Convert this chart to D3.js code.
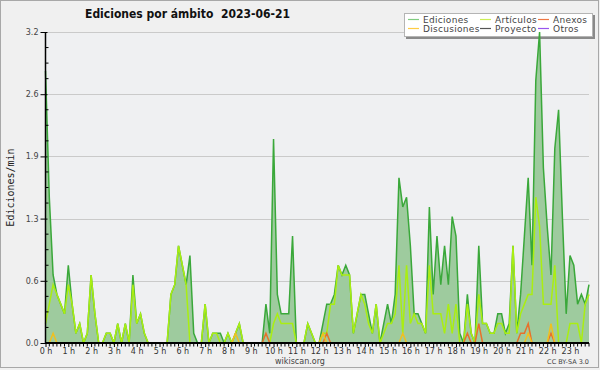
<!DOCTYPE html>
<html>
<head>
<meta charset="utf-8">
<script src="https://cdnjs.cloudflare.com/ajax/libs/d3/7.8.5/d3.min.js"></script>
<style>
  body { margin: 0; background: #f0f0f0; }
  svg { display: block; font-family: "DejaVu Sans", sans-serif; }
</style>
</head>
<body>
<svg id="chart" width="600" height="370"></svg>
<script>
// edits per minute, one value per 10 minute slot (00:00 ... 23:50)
const ediciones = [
  2.8, 1.5, 0.7, 0.5, 0.4, 0.3, 0.8, 0.4, 0.1, 0.2, 0, 0.1,
  0.7, 0.3, 0, 0, 0.1, 0.1, 0, 0.2, 0, 0.2, 0, 0.7,
  0.2, 0.3, 0.1, 0, 0, 0, 0, 0, 0, 0.5, 0.6, 1.0,
  0.8, 0.6, 0.9, 0.1, 0, 0, 0.4, 0, 0.1, 0.1, 0.1, 0,
  0.1, 0, 0.1, 0.2, 0, 0, 0, 0, 0, 0, 0.4, 0.1,
  2.1, 0.5, 0.3, 0.3, 0.3, 1.1, 0, 0, 0, 0.2, 0.1, 0,
  0, 0.2, 0.4, 0.4, 0.5, 0.8, 0.7, 0.8, 0.7, 0.1, 0.3, 0.5,
  0.5, 0.3, 0.1, 0.4, 0, 0.2, 0.4, 0.2, 0.5, 1.7, 1.4, 1.5,
  1.0, 0.3, 0.3, 0.2, 0.1, 1.4, 0.5, 1.1, 0.6, 1.0, 0.6, 1.3,
  1.1, 0.1, 0, 0.5, 0.1, 0, 1.0, 0.2, 0.2, 0.1, 0.1, 0.3,
  0.3, 0.1, 0.2, 1.0, 0.1, 0.5, 1.1, 1.7, 0.8, 2.7, 3.2, 1.8,
  1.2, 0.7, 2.0, 2.4, 1.3, 0.3, 0.9, 0.8, 0.4, 0.5, 0.4, 0.6
];
const articulos = [
  0.2, 0.4, 0.6, 0.5, 0.4, 0.3, 0.6, 0.4, 0.1, 0.2, 0, 0.1,
  0.7, 0.3, 0, 0, 0.1, 0.1, 0, 0.2, 0, 0.2, 0, 0.6,
  0.2, 0.3, 0.1, 0, 0, 0, 0, 0, 0, 0.5, 0.6, 1.0,
  0.8, 0.6, 0, 0, 0, 0, 0.4, 0, 0.1, 0.1, 0, 0,
  0.1, 0, 0.1, 0.2, 0, 0, 0, 0, 0, 0, 0, 0,
  0.2, 0.3, 0.2, 0.2, 0.2, 0.2, 0, 0, 0, 0.2, 0.1, 0,
  0, 0.1, 0.1, 0.4, 0.4, 0.8, 0.7, 0.7, 0.7, 0.1, 0.3, 0.5,
  0.4, 0.2, 0.1, 0.4, 0, 0.1, 0.2, 0.2, 0.3, 0.8, 0.1, 0.8,
  0.2, 0.3, 0.2, 0.2, 0.1, 0.8, 0.3, 0.3, 0.3, 0.1, 0.4, 0.1,
  0.4, 0, 0, 0.4, 0.1, 0, 0.5, 0.2, 0.2, 0.1, 0.1, 0.2,
  0.2, 0.1, 0.1, 1.0, 0.1, 0.3, 0.4, 0.5, 0.5, 1.5, 1.2, 0.4,
  0.4, 0.4, 0.8, 0, 0, 0, 0.2, 0.2, 0.2, 0, 0.4, 0.5
];
const anexos = [
  0, 0, 0, 0, 0, 0, 0, 0, 0, 0, 0, 0,
  0, 0, 0, 0, 0, 0, 0, 0, 0, 0, 0, 0,
  0, 0, 0, 0, 0, 0, 0, 0, 0, 0, 0, 0,
  0, 0, 0, 0, 0, 0, 0, 0, 0, 0, 0, 0,
  0, 0, 0, 0, 0, 0, 0, 0, 0, 0, 0.1, 0,
  0, 0, 0, 0, 0, 0, 0, 0, 0, 0, 0, 0,
  0, 0, 0.1, 0, 0, 0, 0, 0, 0, 0, 0, 0,
  0, 0, 0, 0, 0, 0, 0, 0, 0, 0, 0, 0,
  0, 0, 0, 0, 0, 0, 0, 0, 0, 0, 0, 0,
  0, 0, 0, 0.1, 0, 0, 0.2, 0, 0, 0, 0, 0,
  0, 0, 0, 0, 0, 0.1, 0.1, 0.2, 0, 0, 0, 0,
  0, 0.1, 0, 0, 0, 0, 0, 0, 0, 0, 0, 0
];
const discusiones = [
  0, 0, 0.1, 0, 0, 0, 0, 0, 0, 0, 0, 0,
  0, 0, 0, 0, 0, 0, 0, 0, 0, 0, 0, 0,
  0, 0, 0, 0, 0, 0, 0, 0, 0, 0, 0, 0,
  0, 0, 0, 0, 0, 0, 0, 0, 0, 0, 0, 0,
  0, 0, 0.1, 0, 0, 0, 0, 0, 0, 0, 0, 0,
  0, 0, 0, 0, 0, 0, 0, 0, 0, 0, 0, 0,
  0, 0.1, 0, 0, 0, 0, 0, 0, 0, 0, 0, 0,
  0, 0, 0, 0, 0, 0, 0, 0, 0, 0, 0.1, 0,
  0, 0, 0, 0, 0, 0, 0, 0, 0, 0, 0, 0,
  0, 0, 0, 0, 0, 0, 0, 0, 0, 0, 0, 0,
  0, 0, 0, 0, 0, 0, 0, 0.1, 0, 0, 0, 0,
  0, 0.2, 0, 0, 0, 0, 0, 0, 0, 0, 0, 0
];
const proyecto = [
  0, 0, 0, 0, 0, 0, 0, 0, 0, 0, 0, 0,
  0, 0, 0, 0, 0, 0, 0, 0, 0, 0, 0, 0,
  0, 0, 0, 0, 0, 0, 0, 0, 0, 0, 0, 0,
  0, 0, 0, 0, 0, 0, 0, 0, 0, 0, 0, 0,
  0, 0, 0, 0, 0, 0, 0, 0, 0, 0, 0, 0,
  0, 0, 0, 0, 0, 0, 0, 0, 0, 0, 0, 0,
  0, 0, 0, 0, 0, 0, 0, 0, 0, 0, 0, 0,
  0, 0, 0, 0, 0, 0, 0, 0, 0, 0, 0, 0,
  0, 0, 0, 0, 0, 0, 0, 0, 0, 0, 0, 0,
  0, 0, 0, 0, 0, 0, 0, 0, 0, 0, 0, 0,
  0, 0, 0, 0, 0, 0, 0, 0, 0, 0, 0, 0,
  0, 0, 0, 0, 0, 0, 0, 0, 0, 0, 0, 0
];
const otros = [
  0, 0, 0, 0, 0, 0, 0, 0, 0, 0, 0, 0,
  0, 0, 0, 0, 0, 0, 0, 0, 0, 0, 0, 0,
  0, 0, 0, 0, 0, 0, 0, 0, 0, 0, 0, 0,
  0, 0, 0, 0, 0, 0, 0, 0, 0, 0, 0, 0,
  0, 0, 0, 0, 0, 0, 0, 0, 0, 0, 0, 0,
  0, 0, 0, 0, 0, 0, 0, 0, 0, 0, 0, 0,
  0, 0, 0, 0, 0, 0, 0, 0, 0, 0, 0, 0,
  0, 0, 0, 0, 0, 0, 0, 0, 0, 0, 0, 0,
  0, 0, 0, 0, 0, 0, 0, 0, 0, 0, 0, 0,
  0, 0, 0, 0, 0, 0, 0, 0, 0, 0, 0, 0,
  0, 0, 0, 0, 0, 0, 0, 0, 0, 0, 0, 0,
  0, 0, 0, 0, 0, 0, 0, 0, 0, 0, 0, 0
];

const seriesNames = ["Ediciones", "Artículos", "Anexos", "Discusiones", "Proyecto", "Otros"];
const hourLabels = ["0 h", "1 h", "2 h", "3 h", "4 h", "5 h", "6 h", "7 h", "8 h", "9 h", "10 h", "11 h",
  "12 h", "13 h", "14 h", "15 h", "16 h", "17 h", "18 h", "19 h", "20 h", "21 h", "22 h", "23 h"];
const yTicks = [0, 0.64, 1.28, 1.92, 2.56, 3.2];

const lineColor = {
  "Ediciones": "#3aa83a", "Artículos": "#aaee11", "Anexos": "#e8702a",
  "Discusiones": "#f0c020", "Proyecto": "#555555", "Otros": "#9944ee"
};
const legendColor = {
  "Ediciones": "#80cc80", "Artículos": "#ccee55", "Anexos": "#ee7744",
  "Discusiones": "#ffcc44", "Proyecto": "#555555", "Otros": "#9955ee"
};
const values = {
  "Ediciones": ediciones, "Artículos": articulos, "Anexos": anexos,
  "Discusiones": discusiones, "Proyecto": proyecto, "Otros": otros
};

var svg = d3.select("#chart"),
    plotL = 45.5, plotR = 589, plotT = 32, plotB = 343;

var x = d3.scaleLinear().domain([0, ediciones.length - 1]).range([plotL, plotR]);
var y = d3.scaleLinear().domain([0, 3.2]).range([plotB, plotT]);

// frame
svg.append("rect")
    .attr("x", 0.5).attr("y", 0.5).attr("width", 598).attr("height", 367)
    .attr("fill", "#f0f0f0").attr("stroke", "#a8a8a8");

svg.append("rect")
    .attr("x", plotL).attr("y", plotT).attr("width", plotR - plotL).attr("height", plotB - plotT)
    .attr("fill", "#eff0f2");

// grid
svg.append("g")
  .selectAll("line")
  .data(yTicks.slice(1))
  .enter().append("line")
    .attr("x1", plotL).attr("x2", plotR)
    .attr("y1", d => Math.round(y(d)) + 0.5).attr("y2", d => Math.round(y(d)) + 0.5)
    .attr("stroke", "#cacaca");

// title
svg.append("text")
    .attr("x", 85).attr("y", 18)
    .attr("font-size", 12.5).attr("font-weight", "bold").attr("fill", "#111")
    .attr("textLength", 205).attr("lengthAdjust", "spacingAndGlyphs")
    .style("white-space", "pre")
    .text("Ediciones por ámbito  2023-06-21");

// legend (lines are drawn over it)
var lg = svg.append("g");
lg.append("rect").attr("x", 406).attr("y", 15).attr("width", 189).attr("height", 24).attr("fill", "#8a8a8a");
lg.append("rect").attr("x", 404.5).attr("y", 13.5).attr("width", 188).attr("height", 23)
    .attr("fill", "#ffffff").attr("stroke", "#b4b4b4");
var colX = [408, 480, 538], rowY = [23, 32];
seriesNames.forEach(function(name, i) {
  var cx = colX[i % 3], cy = rowY[Math.floor(i / 3)];
  lg.append("line")
      .attr("x1", cx).attr("x2", cx + 11)
      .attr("y1", cy - 3.5).attr("y2", cy - 3.5)
      .attr("stroke", legendColor[name]).attr("stroke-width", 1.2);
  lg.append("text")
      .attr("x", cx + 15).attr("y", cy)
      .attr("font-size", 9).attr("fill", "#444").attr("letter-spacing", 0.3)
      .text(name);
});

// data
var area = d3.area()
    .x((d, i) => x(i))
    .y0(y(0))
    .y1(d => y(d));

var line = d3.line()
    .x((d, i) => x(i))
    .y(d => y(d));

svg.append("path")
    .datum(ediciones)
    .attr("fill", "#9ecb9e")
    .attr("d", area);

seriesNames.forEach(function(name) {
  svg.append("path")
      .datum(values[name])
      .attr("fill", "none")
      .attr("stroke", lineColor[name])
      .attr("stroke-width", 1.5)
      .attr("d", line);
});

// y axis
var yAxis = svg.append("g")
    .attr("transform", "translate(" + plotL + ",0)")
    .call(d3.axisLeft(y).tickValues(yTicks).tickFormat(d3.format(".1f")).tickSize(5).tickPadding(2));
yAxis.select(".domain").attr("stroke", "#000").attr("stroke-width", 1.5).attr("d", "M0," + plotT + "V" + plotB);
yAxis.selectAll(".tick line").attr("x2", -5).attr("x1", 2);
yAxis.selectAll(".tick text").attr("font-size", 8).attr("fill", "#444").attr("font-family", "DejaVu Sans");

svg.append("g")
    .attr("transform", "translate(" + plotL + ",0)")
  .selectAll("line")
  .data(d3.range(0, 3.2, 0.16).filter((d, i) => i % 4 !== 0))
  .enter().append("line")
    .attr("x1", 0).attr("x2", 3)
    .attr("y1", d => y(d)).attr("y2", d => y(d))
    .attr("stroke", "#000");

svg.append("text")
    .attr("transform", "translate(14," + ((plotT + plotB) / 2) + ") rotate(-90)")
    .attr("text-anchor", "middle")
    .attr("font-family", "DejaVu Sans Mono").attr("font-size", 10).attr("fill", "#222")
    .text("Ediciones/min");

// x axis
var xAxis = svg.append("g")
    .attr("transform", "translate(0," + plotB + ")")
    .call(d3.axisBottom(x).tickValues(d3.range(0, ediciones.length, 6))
      .tickFormat((d, i) => hourLabels[i]).tickSize(4).tickPadding(1));
xAxis.select(".domain").attr("stroke", "#000").attr("stroke-width", 2).attr("d", "M" + plotL + ",0H" + plotR);
xAxis.selectAll(".tick text").attr("font-size", 8).attr("fill", "#333").attr("font-family", "DejaVu Sans");

svg.append("g")
    .attr("transform", "translate(0," + plotB + ")")
  .selectAll("line")
  .data(d3.range(0, ediciones.length).filter(d => d % 6 !== 0))
  .enter().append("line")
    .attr("x1", d => x(d)).attr("x2", d => x(d))
    .attr("y1", 0).attr("y2", 3.5)
    .attr("stroke", "#000");

svg.append("text")
    .attr("x", 300).attr("y", 364).attr("text-anchor", "middle")
    .attr("font-size", 8).attr("fill", "#444")
    .text("wikiscan.org");

svg.append("text")
    .attr("x", 589).attr("y", 364).attr("text-anchor", "end")
    .attr("font-size", 6.5).attr("fill", "#444")
    .text("CC BY-SA 3.0");
</script>
</body>
</html>
